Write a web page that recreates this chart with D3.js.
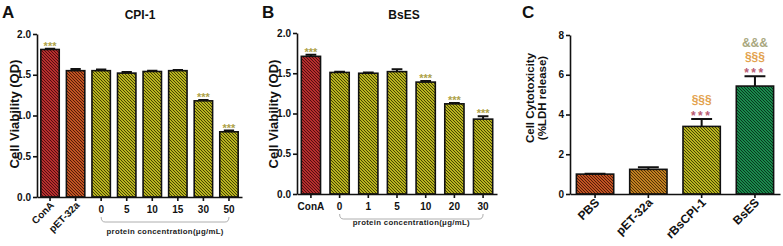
<!DOCTYPE html>
<html>
<head>
<meta charset="utf-8">
<script src="https://cdn.jsdelivr.net/npm/d3@7"></script>
<style>
  body { margin: 0; background: #fff; }
  svg text { font-family: "Liberation Sans", Arial, sans-serif; font-weight: bold; }
</style>
</head>
<body>
<svg width="783" height="246"></svg>
<script>
// ---- data ----
const catsA = ['ConA', 'pET-32a', '0', '5', '10', '15', '30', '50']
const valsA = [1.81, 1.55, 1.55, 1.52, 1.54, 1.55, 1.18, 0.80]
const errsA = [0.01, 0.02, 0.015, 0.015, 0.01, 0.008, 0.01, 0.015]
const sigsA = ['***', '', '', '', '', '', '***', '***']

const catsB = ['ConA', '0', '1', '5', '10', '20', '30']
const valsB = [1.71, 1.51, 1.50, 1.52, 1.39, 1.12, 0.93]
const errsB = [0.02, 0.01, 0.01, 0.03, 0.015, 0.01, 0.035]
const sigsB = ['***', '', '', '', '***', '***', '***']

const catsC = ['PBS', 'pET-32a', 'rBsCPI-1', 'BsES']
const valsC = [1.0, 1.24, 3.4, 5.43]
const errsC = [0.02, 0.1, 0.37, 0.5]
const sigsC = [[], [], ['***', '§§§'], ['***', '§§§', '&&&']]

const ticksAB = [0, 0.5, 1.0, 1.5, 2.0]
const ticksC = [0, 2, 4, 6, 8]

const svg = d3.select('svg')
const defs = svg.append('defs')

// diagonal hatch fills
const hatch = (id, bg, fg) => {
  const p = defs.append('pattern')
    .attr('id', id)
    .attr('patternUnits', 'userSpaceOnUse')
    .attr('width', 3)
    .attr('height', 3)
  p.append('rect').attr('width', 3).attr('height', 3).attr('fill', bg)
  p.append('path')
    .attr('d', 'M-0.75,-0.75L3.75,3.75M-0.75,2.25L0.75,3.75M2.25,-0.75L3.75,0.75')
    .attr('stroke', fg)
    .attr('stroke-width', 1.05)
}
hatch('red', '#e03a3a', '#4a0c0c')
hatch('orange', '#ec6a2c', '#4a1606')
hatch('amber', '#eea02a', '#4a2a04')
hatch('yellow', '#e6e02a', '#3c3a00')
hatch('green', '#22aa5e', '#05301a')

const panel = o => {
  const x = d3.scaleBand()
    .domain(o.cats)
    .range([o.left, o.right])
    .paddingInner(o.pi)
    .paddingOuter(o.po)
  const y = d3.scaleLinear()
    .domain([0, o.ymax])
    .range([o.bottom, o.top])
  const bw = x.bandwidth()
  const g = svg.append('g')

  g.selectAll('rect.bar').data(o.cats).join('rect')
    .attr('class', 'bar')
    .attr('x', d => x(d))
    .attr('y', (d, i) => y(o.vals[i]))
    .attr('width', bw)
    .attr('height', (d, i) => y(0) - y(o.vals[i]))
    .attr('fill', d => `url(#${o.fill(d)})`)
    .attr('stroke', '#111')
    .attr('stroke-width', 1.6)

  // error bars (upper only)
  o.cats.forEach((d, i) => {
    const cx = x(d) + bw / 2
    const top = y(o.vals[i] + o.errs[i])
    g.append('path')
      .attr('d', `M${cx},${y(o.vals[i])}V${top}M${cx - bw * 0.28},${top}H${cx + bw * 0.28}`)
      .attr('stroke', '#111')
      .attr('stroke-width', 2)
      .attr('fill', 'none')
  })

  const ya = g.append('g')
    .attr('transform', `translate(${o.left},0)`)
    .call(d3.axisLeft(y).tickValues(o.yticks).tickFormat(o.fmt).tickSize(4).tickSizeOuter(0).tickPadding(2))
  ya.selectAll('path, line').attr('stroke', '#111').attr('stroke-width', 1.6)
  ya.selectAll('text').attr('font-size', 10).attr('fill', '#111')

  const xa = g.append('g')
    .attr('transform', `translate(0,${o.bottom})`)
    .call(d3.axisBottom(x).tickSize(4).tickSizeOuter(0).tickPadding(5))
  xa.selectAll('path, line').attr('stroke', '#111').attr('stroke-width', 1.6)
  xa.selectAll('text').attr('font-size', o.xfs).attr('fill', '#111')
  xa.selectAll('text').filter(d => o.rotated.includes(d))
    .attr('text-anchor', 'end')
    .attr('transform', 'rotate(-45)')
    .attr('x', -3)
    .attr('y', 6)
    .attr('dy', '0.35em')

  return { x, y, g, bw }
}

const bracket = (p, first, last, yb, ty) => {
  const x1 = p.x(first) + p.bw / 2
  const x2 = p.x(last) + p.bw / 2
  p.g.append('path')
    .attr('d', `M${x1},${yb}Q${x1},${yb + 5} ${x1 + 4},${yb + 5}H${x2 - 4}Q${x2},${yb + 5} ${x2},${yb}`)
    .attr('fill', 'none')
    .attr('stroke', '#999')
    .attr('stroke-width', 0.8)
  p.g.append('text')
    .attr('x', (x1 + x2) / 2)
    .attr('y', ty)
    .attr('text-anchor', 'middle')
    .attr('font-size', 7.8)
    .attr('letter-spacing', 0.3)
    .attr('fill', '#222')
    .text('protein concentration(μg/mL)')
}

const stars = (p, cats, vals, errs, sigs) => {
  cats.forEach((d, i) => {
    if (!sigs[i]) return
    p.g.append('text')
      .attr('x', p.x(d) + p.bw / 2)
      .attr('y', p.y(vals[i] + errs[i]) + 1)
      .attr('text-anchor', 'middle')
      .attr('font-size', 11)
      .attr('fill', '#aea24a')
      .text(sigs[i])
  })
}

// ---- panel A ----
const pA = panel({
  cats: catsA, vals: valsA, errs: errsA,
  left: 37, right: 242, top: 34, bottom: 197,
  pi: 0.28, po: 0.15, ymax: 2, yticks: ticksAB, fmt: d3.format('.1f'),
  xfs: 10, rotated: ['ConA', 'pET-32a'],
  fill: d => d === 'ConA' ? 'red' : d === 'pET-32a' ? 'orange' : 'yellow'
})
stars(pA, catsA, valsA, errsA, sigsA)
bracket(pA, '0', '50', 217, 234)

// ---- panel B ----
const pB = panel({
  cats: catsB, vals: valsB, errs: errsB,
  left: 297, right: 497, top: 33, bottom: 194,
  pi: 0.33, po: 0.15, ymax: 2, yticks: ticksAB, fmt: d3.format('.1f'),
  xfs: 10, rotated: [],
  fill: d => d === 'ConA' ? 'red' : 'yellow'
})
stars(pB, catsB, valsB, errsB, sigsB)
bracket(pB, '0', '30', 214, 225)

// ---- panel C ----
const pC = panel({
  cats: catsC, vals: valsC, errs: errsC,
  left: 570, right: 780, top: 35, bottom: 194,
  pi: 0.3, po: 0.12, ymax: 8, yticks: ticksC, fmt: d3.format('d'),
  xfs: 12, rotated: catsC,
  fill: d => ({ PBS: 'orange', 'pET-32a': 'amber', 'rBsCPI-1': 'yellow', BsES: 'green' })[d]
})
const sigColour = { '***': '#b85a72', '§§§': '#e3a24e', '&&&': '#a9a77e' }
const sigShift = { '***': 0.5, '§§§': -15, '&&&': -29 }
catsC.forEach((d, i) => {
  sigsC[i].forEach(s => {
    pC.g.append('text')
      .attr('x', pC.x(d) + pC.bw / 2)
      .attr('y', pC.y(valsC[i] + errsC[i]) + sigShift[s])
      .attr('text-anchor', 'middle')
      .attr('font-size', 12)
      .attr('letter-spacing', s === '***' ? 2.5 : 0)
      .attr('fill', sigColour[s])
      .text(s)
  })
})

// ---- titles, letters, axis labels ----
const label = (txt, x, y, size, anchor = 'start') =>
  svg.append('text').attr('x', x).attr('y', y).attr('font-size', size)
    .attr('text-anchor', anchor).attr('fill', '#111').text(txt)

label('A', 2, 18, 17)
label('B', 262, 18, 17)
label('C', 522, 18, 17)
label('CPI-1', 140, 19, 12, 'middle')
label('BsES', 404, 19, 12, 'middle')

const ylab = (lines, x, y, size) => {
  lines.forEach((t, i) => {
    svg.append('text')
      .attr('transform', `translate(${x + i * size * 1.05},${y}) rotate(-90)`)
      .attr('text-anchor', 'middle')
      .attr('font-size', size)
      .attr('fill', '#111')
      .text(t)
  })
}
ylab(['Cell Viability (OD)'], 19, 114, 13)
ylab(['Cell Viability (OD)'], 278, 114, 13)
ylab(['Cell Cytotoxicity', '(%LDH release)'], 534, 98, 11.5)
</script>
</body>
</html>
